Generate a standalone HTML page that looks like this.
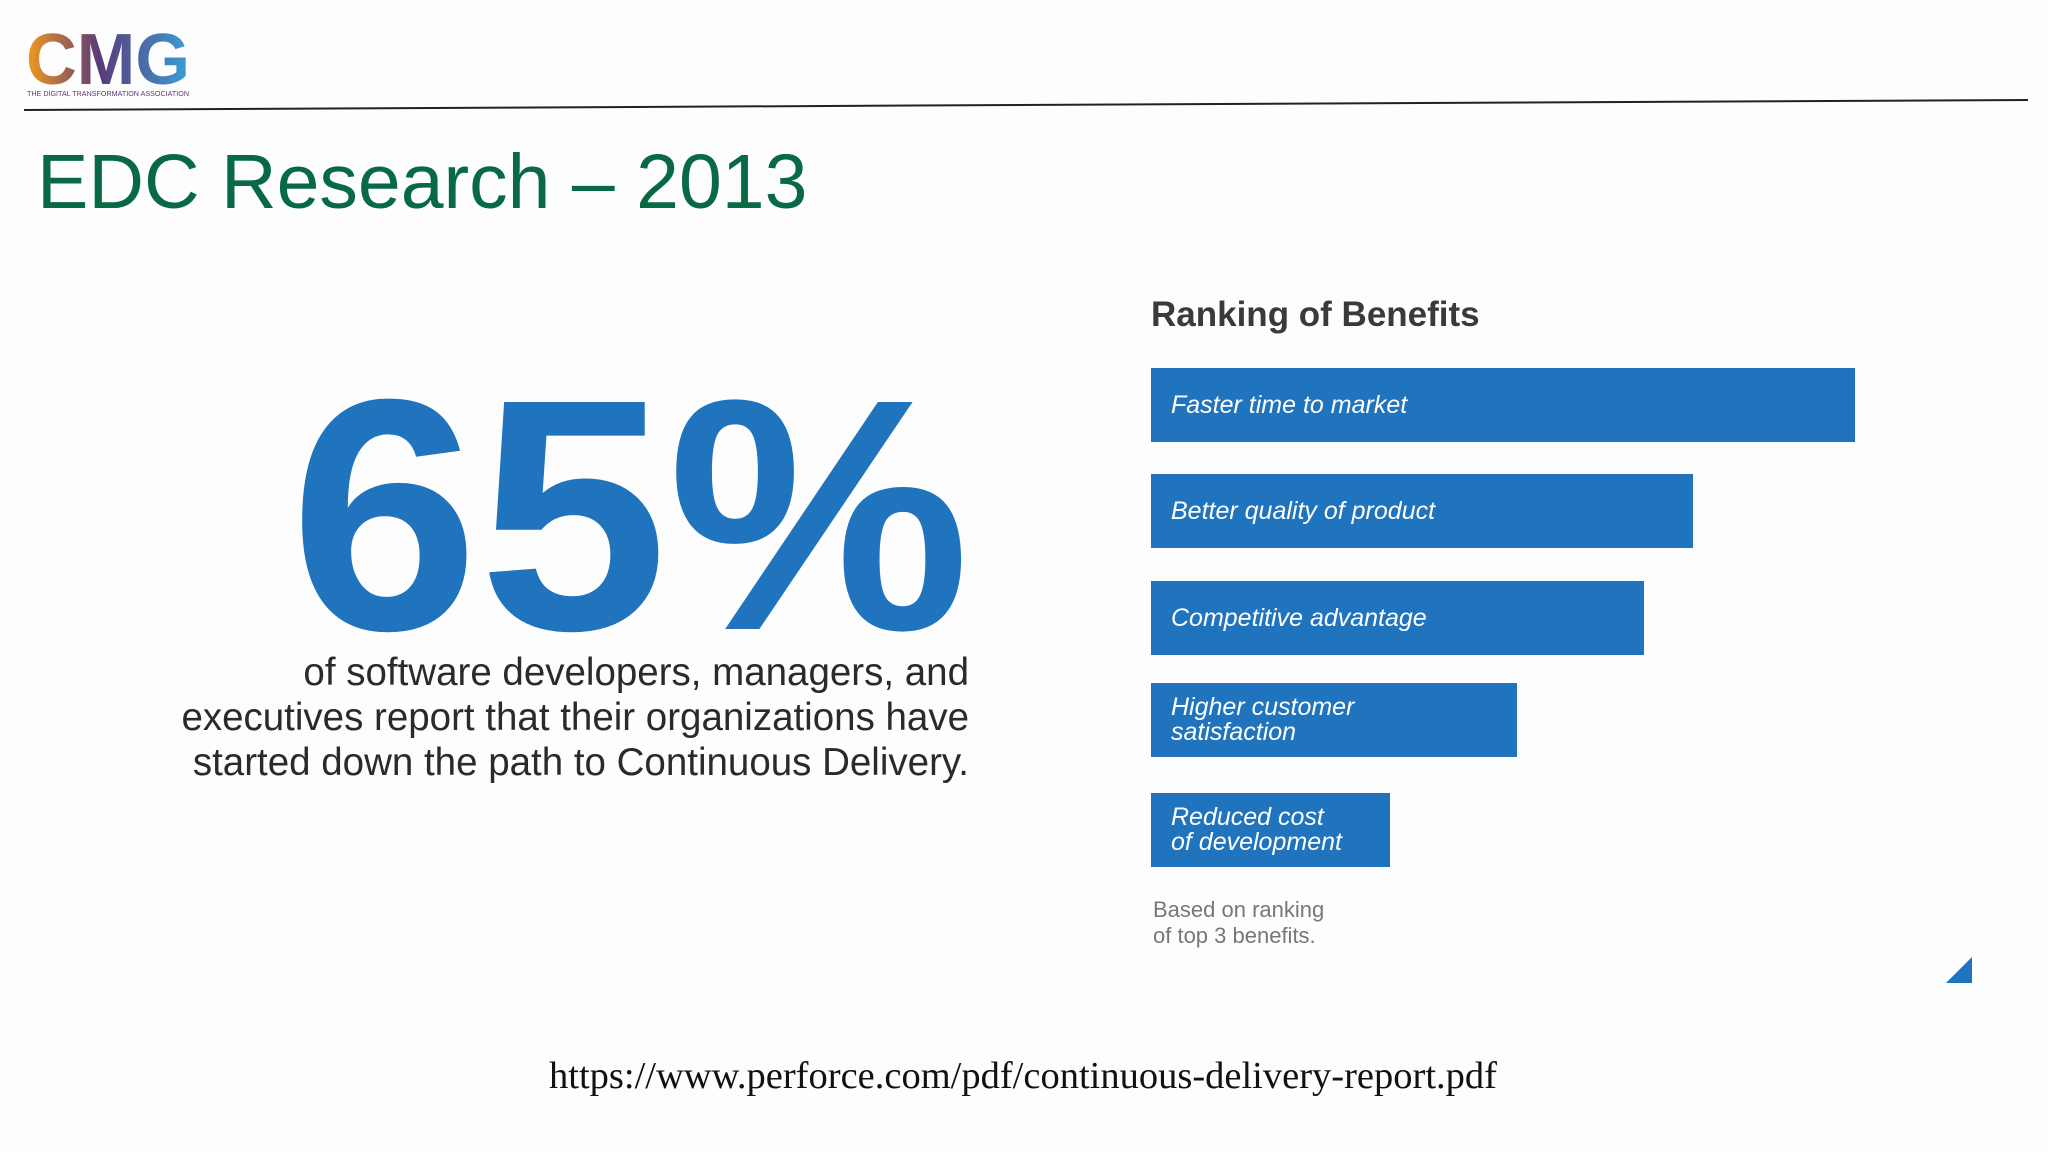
<!DOCTYPE html>
<html><head><meta charset="utf-8"><style>
body{margin:0;width:2048px;height:1152px;background:#fdfdfd;position:relative;overflow:hidden;font-family:"Liberation Sans",sans-serif}
.a{position:absolute}
</style></head><body>
<div class="a" style="left:24px;top:22px;width:170px;height:80px">
<svg width="170" height="80"><defs><linearGradient id="g" x1="0" x2="1"><stop offset="0" stop-color="#f39a1e"/><stop offset="0.45" stop-color="#5a3a7a"/><stop offset="1" stop-color="#3aa0d8"/></linearGradient></defs>
<text x="2" y="62" font-family="Liberation Sans" font-weight="bold" font-size="72" fill="url(#g)" textLength="164" lengthAdjust="spacingAndGlyphs">CMG</text>
<text x="3" y="74" font-family="Liberation Sans" font-size="7" fill="#5a3a7a" textLength="162" lengthAdjust="spacingAndGlyphs">THE DIGITAL TRANSFORMATION ASSOCIATION</text></svg></div>
<svg class="a" style="left:0;top:0" width="2048" height="120"><line x1="24" y1="110" x2="2028" y2="100" stroke="#222" stroke-width="2"/></svg>
<div class="a" style="left:37px;top:132px;font-size:77px;color:#076a45;line-height:100px">EDC Research – 2013</div>
<div class="a" style="left:290px;top:350px;width:680px;text-align:right;font-size:330px;font-weight:bold;color:#1f74bd;line-height:330px;transform:scaleX(1.03);transform-origin:right center">65%</div>
<div class="a" style="left:60px;top:650px;width:909px;text-align:right;font-size:38.5px;color:#2a2a2a;line-height:45px">of software developers, managers, and<br>executives report that their organizations have<br>started down the path to Continuous Delivery.</div>
<div class="a" style="left:1151px;top:295px;font-size:35px;font-weight:bold;color:#3a3a3a">Ranking of Benefits</div>
<div id="chart" class="a" style="left:0;top:0"></div>
<div class="a" style="left:1153px;top:897px;font-size:22px;color:#777;line-height:26px">Based on ranking<br>of top 3 benefits.</div>
<svg class="a" style="left:1944px;top:955px" width="30" height="30"><polygon points="2,28 28,28 28,2" fill="#1f74bd"/></svg>
<div class="a" style="left:0;width:2046px;top:1054px;text-align:center;font-family:'Liberation Serif',serif;font-size:38.5px;color:#111">https://www.perforce.com/pdf/continuous-delivery-report.pdf</div>
<script>
const categories=["Faster time to market","Better quality of product","Competitive advantage","Higher customer<br>satisfaction","Reduced cost<br>of development"];
const values=[100,77,70,52,34];
const tops=[368,474,581,683,793];
const c=document.getElementById('chart');
const x0=1151,scale=7.04,h=74;
categories.forEach((cat,i)=>{
const b=document.createElement('div');


b.style.cssText=`position:absolute;left:${x0}px;top:${tops[i]}px;width:${values[i]*scale}px;height:${h}px;background:#1f74bd;color:#fff;font-style:italic;font-size:25px;line-height:25px;display:flex;align-items:center;padding-left:20px;box-sizing:border-box`;
b.innerHTML=cat;
c.appendChild(b);
});
</script>
</body></html>
